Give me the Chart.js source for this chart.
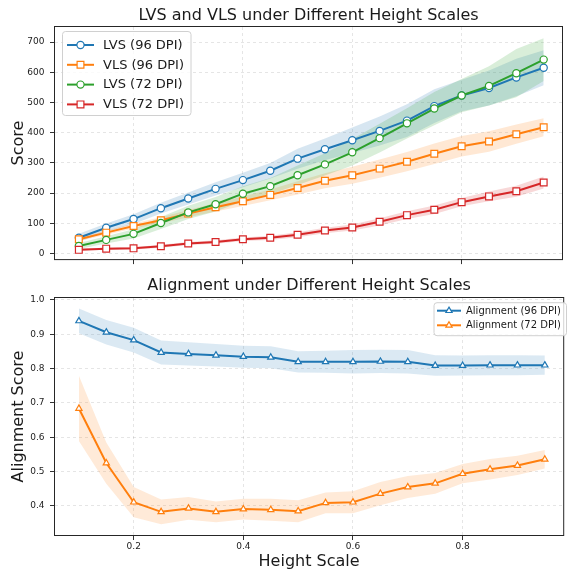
<!DOCTYPE html>
<html>
<head>
<meta charset="utf-8">
<script src="https://cdn.jsdelivr.net/npm/chart.js@4.4.1/dist/chart.umd.min.js"></script>
<style>
html,body{margin:0;padding:0;background:#fff;}
#wrap{position:relative;width:568px;height:573px;overflow:hidden;background:#fff;}
canvas{position:absolute;left:0;}
#c1{top:0;}
#c2{top:270px;}
</style>
</head>
<body>
<div id="wrap">
<canvas id="c1" width="568" height="270"></canvas>
<canvas id="c2" width="568" height="303"></canvas>
</div>
<script>
// ---------- data ----------
const heightScales = [0.10,0.15,0.20,0.25,0.30,0.35,0.40,0.45,0.50,0.55,0.60,0.65,0.70,0.75,0.80,0.85,0.90,0.95];

const lvs96    = [52,85,114,150,182,214,243,274,314,345,375,406,440,488,523,548,583,615];
const lvs96Std = [13,14,16,18,20,22,24,26,33,36,42,48,54,56,52,58,62,58];
const vls96    = [47,69,91,110,132,153,173,194,217,241,259,281,304,330,355,371,395,418];
const vls96Std = [6,7,8,10,12,14,16,18,22,25,28,30,32,34,34,34,32,30];
const lvs72    = [25,45,65,101,136,163,198,223,259,295,335,382,431,480,523,555,597,642];
const lvs72Std = [10,12,15,20,22,24,25,27,32,37,44,48,50,55,55,65,80,71];
const vls72    = [12,16,17,24,33,38,47,52,62,76,86,105,127,145,170,189,206,235];
const vls72Std = [3,4,4,5,5,6,6,7,8,9,10,12,13,14,14,16,18,20];

const align96    = [0.939,0.906,0.883,0.847,0.843,0.839,0.835,0.833,0.820,0.820,0.820,0.821,0.820,0.809,0.809,0.810,0.810,0.810];
const align96Std = [0.036,0.036,0.036,0.035,0.034,0.033,0.032,0.032,0.031,0.032,0.034,0.034,0.034,0.030,0.029,0.029,0.029,0.028];
const align72    = [0.684,0.525,0.411,0.383,0.393,0.383,0.391,0.389,0.385,0.409,0.411,0.436,0.455,0.466,0.494,0.507,0.518,0.536];
const align72Std = [0.095,0.060,0.044,0.036,0.033,0.030,0.030,0.032,0.032,0.030,0.032,0.034,0.032,0.030,0.028,0.030,0.028,0.027];

const xTickValues     = [0.2,0.4,0.6,0.8];
const scoreTickValues = [0,100,200,300,400,500,600,700];
const alignTickValues = [0.4,0.5,0.6,0.7,0.8,0.9,1.0];

const topLabels    = ['LVS (96 DPI)','VLS (96 DPI)','LVS (72 DPI)','VLS (72 DPI)'];
const bottomLabels = ['Alignment (96 DPI)','Alignment (72 DPI)'];

// ---------- style ----------
const FONT = "'DejaVu Sans', 'Liberation Sans', sans-serif";
Chart.defaults.font.family = FONT;
Chart.defaults.color = '#222';
const COL = {blue:'#1f77b4', orange:'#ff7f0e', green:'#2ca02c', red:'#d62728'};
function rgba(hex, a){
  const n = parseInt(hex.slice(1),16);
  return `rgba(${(n>>16)&255},${(n>>8)&255},${n&255},${a})`;
}
const GRID = 'rgba(0,0,0,0.13)';
const R_CIRCLE = 3.6, R_RECT = 4.8, R_TRI = 3.6;

function pts(ys){ return heightScales.map((x,i)=>({x, y: ys[i]})); }
function offs(ys, sd, s){ return heightScales.map((x,i)=>({x, y: ys[i] + s*sd[i]})); }

function lineDs(label, ys, color, style, radius, order){
  return {label, data: pts(ys), borderColor: color, backgroundColor: '#fff', borderWidth: 2,
    pointStyle: style, pointRadius: radius, pointHoverRadius: radius, pointBorderWidth: 1.2,
    pointBackgroundColor: '#fff', pointBorderColor: color, fill: false, tension: 0, order};
}
function bandDs(ys, sd, color, alpha, order){
  return [
    {label: '_lo', data: offs(ys, sd, -1), borderWidth: 0, pointRadius: 0, fill: false, order, borderColor: 'rgba(0,0,0,0)'},
    {label: '_hi', data: offs(ys, sd, 1), borderWidth: 0, pointRadius: 0, fill: '-1', backgroundColor: rgba(color, alpha), order, borderColor: 'rgba(0,0,0,0)'}
  ];
}

function drawMarker(ctx, style, x, y, r, color){
  ctx.save();
  ctx.fillStyle = '#fff'; ctx.strokeStyle = color; ctx.lineWidth = 1.2;
  ctx.beginPath();
  if (style === 'circle') ctx.arc(x, y, r, 0, Math.PI*2);
  else if (style === 'rect') { const s = r*Math.SQRT1_2; ctx.rect(x-s, y-s, 2*s, 2*s); }
  else if (style === 'triangle') {
    for (let k=0;k<3;k++){ const a = -Math.PI/2 + k*2*Math.PI/3; const px = x + r*Math.cos(a), py = y + r*Math.sin(a); k?ctx.lineTo(px,py):ctx.moveTo(px,py);} ctx.closePath();
  }
  ctx.fill(); ctx.stroke();
  ctx.restore();
}

const frameLegend = {
  id: 'frameLegend',
  afterDraw(chart, args, o){
    const {ctx, chartArea: a} = chart;
    ctx.save();
    ctx.strokeStyle = '#262626'; ctx.lineWidth = 1;
    ctx.strokeRect(a.left-0.5, a.top-0.5, a.right-a.left+1, a.bottom-a.top+1);
    const L = o.legend;
    const r = 3;
    ctx.beginPath();
    ctx.moveTo(L.x+r, L.y); ctx.lineTo(L.x+L.w-r, L.y); ctx.arcTo(L.x+L.w, L.y, L.x+L.w, L.y+r, r);
    ctx.lineTo(L.x+L.w, L.y+L.h-r); ctx.arcTo(L.x+L.w, L.y+L.h, L.x+L.w-r, L.y+L.h, r);
    ctx.lineTo(L.x+r, L.y+L.h); ctx.arcTo(L.x, L.y+L.h, L.x, L.y+L.h-r, r);
    ctx.lineTo(L.x, L.y+r); ctx.arcTo(L.x, L.y, L.x+r, L.y, r); ctx.closePath();
    ctx.fillStyle = 'rgba(255,255,255,0.8)'; ctx.fill();
    ctx.strokeStyle = '#d0d0d0'; ctx.lineWidth = 1; ctx.stroke();
    L.items.forEach((it, i) => {
      const y = L.rowY + i*L.rowH;
      ctx.strokeStyle = it.color; ctx.lineWidth = 2;
      ctx.beginPath(); ctx.moveTo(L.lineX0, y); ctx.lineTo(L.lineX1, y); ctx.stroke();
      drawMarker(ctx, it.style, (L.lineX0+L.lineX1)/2, y, it.r, it.color);
      ctx.fillStyle = '#1a1a1a'; ctx.font = `${L.font}px ${FONT}`;
      ctx.textBaseline = 'middle'; ctx.textAlign = 'left';
      ctx.fillText(it.label, L.textX, y + 0.5);
    });
    ctx.restore();
  }
};

function xScale(showLabels, height, title){
  return {
    type: 'linear', min: 0.0564, max: 0.9835,
    afterBuildTicks: s => { s.ticks = xTickValues.map(v => ({value: v})); },
    afterFit: s => { s.height = height; },
    ticks: {display: showLabels, font: {size: 9}, color: '#222', padding: 1.5, maxRotation: 0, callback: v => v.toFixed(1)},
    grid: {color: GRID, lineWidth: 0.8, drawTicks: true, tickLength: 5, tickColor: '#333', tickWidth: 1, tickBorderDash: []},
    border: {display: false, dash: [3,3]},
    title: title ? {display: true, text: title, font: {size: 16}, color: '#1a1a1a', padding: {top: 0, bottom: 1.4}} : {display: false}
  };
}
function yScale(min, max, ticks, fmt, title){
  return {
    min, max,
    afterBuildTicks: s => { s.ticks = ticks.map(v => ({value: v})); },
    afterFit: s => { s.width = 55; },
    ticks: {font: {size: 9}, color: '#222', padding: 5.5, callback: fmt},
    grid: {color: GRID, lineWidth: 0.8, drawTicks: true, tickLength: 5, tickColor: '#333', tickWidth: 1, tickBorderDash: []},
    border: {display: false, dash: [3,3]},
    title: {display: true, text: title, font: {size: 16}, color: '#1a1a1a', padding: {top: 9, bottom: 0}}
  };
}

// ---------- top chart ----------
new Chart(document.getElementById('c1'), {
  type: 'line',
  data: {datasets: [
    lineDs(topLabels[0], lvs96, COL.blue, 'circle', R_CIRCLE, 4),
    lineDs(topLabels[1], vls96, COL.orange, 'rect', R_RECT, 3),
    lineDs(topLabels[2], lvs72, COL.green, 'circle', R_CIRCLE, 2),
    lineDs(topLabels[3], vls72, COL.red, 'rect', R_RECT, 1),
    ...bandDs(lvs96, lvs96Std, COL.blue, 0.18, 13),
    ...bandDs(vls96, vls96Std, COL.orange, 0.18, 12),
    ...bandDs(lvs72, lvs72Std, COL.green, 0.18, 11),
    ...bandDs(vls72, vls72Std, COL.red, 0.18, 10)
  ]},
  options: {
    responsive: false, animation: false, devicePixelRatio: 1,
    layout: {padding: {left: 0, right: 1, top: 0, bottom: 0}},
    scales: {
      x: xScale(false, 7, null),
      y: yScale(-18.6, 750, scoreTickValues, v => String(v), 'Score')
    },
    plugins: {
      legend: {display: false}, tooltip: {enabled: false},
      title: {display: true, fullSize: false, text: 'LVS and VLS under Different Height Scales', font: {size: 16, weight: 'normal'}, color: '#1a1a1a', padding: {top: 6, bottom: 1.8}},
      frameLegend: {legend: {x: 62.5, y: 31.5, w: 128.5, h: 84, rowY: 45, rowH: 19.8, lineX0: 67, lineX1: 94, textX: 103, font: 13,
        items: [
          {label: topLabels[0], color: COL.blue, style: 'circle', r: R_CIRCLE},
          {label: topLabels[1], color: COL.orange, style: 'rect', r: R_RECT},
          {label: topLabels[2], color: COL.green, style: 'circle', r: R_CIRCLE},
          {label: topLabels[3], color: COL.red, style: 'rect', r: R_RECT}
        ]}}
    }
  },
  plugins: [frameLegend]
});

// ---------- bottom chart ----------
new Chart(document.getElementById('c2'), {
  type: 'line',
  data: {datasets: [
    lineDs(bottomLabels[0], align96, COL.blue, 'triangle', R_TRI, 2),
    lineDs(bottomLabels[1], align72, COL.orange, 'triangle', R_TRI, 1),
    ...bandDs(align96, align96Std, COL.blue, 0.16, 11),
    ...bandDs(align72, align72Std, COL.orange, 0.16, 10)
  ]},
  options: {
    responsive: false, animation: false, devicePixelRatio: 1,
    layout: {padding: {left: 0, right: 1, top: 0, bottom: 0}},
    scales: {
      x: xScale(true, 38, 'Height Scale'),
      y: yScale(0.3155, 1.0058, alignTickValues, v => v.toFixed(1), 'Alignment Score')
    },
    plugins: {
      legend: {display: false}, tooltip: {enabled: false},
      title: {display: true, fullSize: false, text: 'Alignment under Different Height Scales', font: {size: 16, weight: 'normal'}, color: '#1a1a1a', padding: {top: 6, bottom: 2.8}},
      frameLegend: {legend: {x: 434, y: 32.7, w: 132.5, h: 33, rowY: 40.7, rowH: 14.6, lineX0: 437, lineX1: 461, textX: 466, font: 10,
        items: [
          {label: bottomLabels[0], color: COL.blue, style: 'triangle', r: R_TRI},
          {label: bottomLabels[1], color: COL.orange, style: 'triangle', r: R_TRI}
        ]}}
    }
  },
  plugins: [frameLegend]
});
</script>
</body>
</html>
